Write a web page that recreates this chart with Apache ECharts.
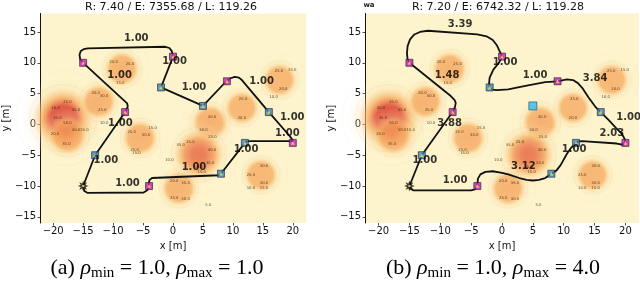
<!DOCTYPE html>
<html><head><meta charset="utf-8">
<script src="https://cdn.jsdelivr.net/npm/echarts@6/dist/echarts.min.js"></script>
<style>html,body{margin:0;padding:0;background:#fff}#c{width:640px;height:284px}</style>
</head><body><div id="c"></div>
<script>
// ---------------- data ----------------
const xTicks = [-20, -15, -10, -5, 0, 5, 10, 15, 20];
const yTicks = [-15, -10, -5, 0, 5, 10, 15];
const titles = ['R: 7.40 / E: 7355.68 / L: 119.26', 'R: 7.20 / E: 6742.32 / L: 119.28'];
const cornerNote = 'wa';
const captions = [
  ['(a) ', 'ρ', 'min', ' = 1.0, ', 'ρ', 'max', ' = 1.0'],
  ['(b) ', 'ρ', 'min', ' = 1.0, ', 'ρ', 'max', ' = 4.0']
];
// field sources: [x, y, peak]
const fieldSources = [
  [-18.3, 1.0, 55], [-17.6, -1.8, 35], [-12.4, 3.7, 32], [-8.5, 9.0, 32],
  [-5.5, -2.2, 32], [6.2, 0.3, 33], [4.3, -4.9, 45], [11.5, 2.7, 31],
  [17.8, 7.2, 31], [14.7, -8.2, 31], [1.0, -10.4, 32]
];
// contour labels: [x, y, text]
const contourLabels = [
  [-17.6, 3.6, '25.0'], [-19.6, 2.6, '40.0'], [-16.2, 2.4, '35.0'], [-19.3, 1.0, '45.0'],
  [-17.6, 0.3, '50.0'], [-16.2, -0.9, '30.0'], [-14.8, -0.9, '15.0'], [-19.7, -1.5, '20.0'],
  [-17.8, -3.2, '35.0'], [-12.9, 5.1, '20.0'], [-11.5, 4.6, '30.0'], [-11.8, 2.4, '25.0'],
  [-11.5, 0.2, '10.0'], [-9.9, 10.1, '20.0'], [-7.2, 9.85, '25.0'], [-8.8, 6.8, '15.0'],
  [-6.9, -1.2, '25.0'], [-4.5, -1.7, '30.0'], [-3.4, -0.6, '15.0'], [-6.4, -4.1, '25.0'],
  [-6.1, -4.7, '15.0'], [-0.6, -5.75, '10.0'], [6.5, 1.2, '30.0'], [5.1, -0.9, '30.0'],
  [6.6, -2.0, '25.0'], [1.3, -3.3, '35.0'], [2.9, -2.8, '25.0'], [6.5, -4.1, '40.0'],
  [6.2, -6.3, '35.0'], [4.8, -7.65, '15.0'], [4.3, -6.9, '45.0'], [11.7, 4.1, '25.0'],
  [11.5, 1.0, '20.0'], [17.7, 8.6, '25.0'], [19.9, 8.8, '15.0'], [18.4, 5.7, '20.0'],
  [16.8, 4.5, '10.0'], [15.2, -6.8, '30.0'], [13.0, -8.2, '25.0'], [15.2, -9.5, '30.0'],
  [15.2, -10.35, '15.0'], [13.0, -10.35, '10.0'], [0.2, -9.2, '20.0'], [2.1, -9.5, '35.0'],
  [0.2, -12.0, '25.0'], [2.1, -12.1, '30.0'], [5.9, -13.1, '5.0']
];
const startPoint = [[-15, -10]];
const sensorsA = [[-13, -5], [-2, 6], [5, 3], [16, 2], [12, -3], [8, -8]];
const targetsA = [[-8, 2], [-15, 10], [0, 11], [9, 7], [20, -3], [-4, -10]];
const sensorsB = [[-13, -5], [-2, 6], [16, 2], [12, -3], [8, -8]];
const targetsB = [[-8, 2], [-15, 10], [0, 11], [9, 7], [20, -3], [-4, -10]];
const unvisitedB = [[5, 3]];
const pathA = [
  [-15, -10], [-13, -5], [-8, 2], [-7.55, 2.9], [-7.65, 3.4], [-15, 10], [-15.5, 10.6],
  [-15.6, 11.3], [-15.4, 11.9], [-14.9, 12.2], [-14.2, 12.35], [-1.3, 12.6], [-0.6, 12.4],
  [-0.2, 11.9], [0, 11], [-2, 6], [5, 3], [8.5, 6.6], [9, 7], [9.5, 7.45], [10.3, 7.7],
  [11.0, 7.6], [11.5, 7.2], [16, 2], [19.4, -1.8], [19.8, -2.3], [20, -2.7], [20, -3],
  [13, -2.7], [12.4, -2.75], [12, -3], [8, -8], [7.6, -8.25], [-3.5, -8.7], [-3.9, -9.0],
  [-4.05, -9.5], [-4, -10], [-4.3, -10.7], [-4.9, -11.05], [-14.3, -11.1], [-14.8, -10.8], [-15, -10]
];
const pathB = [
  [-15, -10], [-13, -5], [-8, 2], [-7.6, 2.9], [-7.5, 3.5], [-7.7, 4.0], [-8.3, 4.6], [-15, 10],
  [-15.3, 10.6], [-15.4, 11.5], [-15.3, 12.7], [-14.9, 13.8], [-14.2, 14.6], [-13.3, 15.0],
  [-12, 15.2], [-4, 14.6], [-2.5, 14.3], [-1.5, 13.7], [-0.8, 12.8], [-0.3, 11.7], [0, 11],
  [-0.5, 10.0], [-1.4, 8.9], [-2.0, 7.6], [-2.1, 6.6], [-2, 6], [-1.6, 5.65], [-0.8, 5.55],
  [1, 5.7], [4, 6.3], [7, 6.85], [9, 7], [10.5, 7.3], [11.5, 7.2], [12.3, 6.7], [13.1, 5.8],
  [14.0, 4.4], [15.1, 2.9], [16, 2], [17.3, 0.7], [18.5, -0.6], [19.4, -1.5], [19.9, -2.4],
  [20, -3], [19.6, -3.3], [18.6, -3.1], [13, -2.7], [12.4, -2.75], [12, -3], [11.2, -3.8],
  [10.5, -4.8], [9.5, -6.6], [8.8, -7.5], [8, -8], [7, -8.7], [6, -9.0], [5, -9.1], [4, -9.0],
  [2.8, -8.7], [1, -8.1], [0, -7.85], [-1.5, -7.6], [-2.7, -7.7], [-3.5, -8.1], [-3.9, -8.8],
  [-4, -10], [-4.4, -10.55], [-5, -10.7], [-14.4, -10.7], [-14.9, -10.4], [-15, -10]
];
// radius labels: [x, y, text]
const radiusLabelsA = [
  [-6.14, 13.9, '1.00'], [0.25, 10.2, '1.00'], [-8.9, 7.9, '1.00'], [3.5, 5.95, '1.00'],
  [14.8, 6.9, '1.00'], [19.9, 1.07, '1.00'], [-8.8, 0.1, '1.00'], [19.1, -1.5, '1.00'],
  [12.2, -4.0, '1.00'], [-11.2, -5.9, '1.00'], [3.5, -7.05, '1.00'], [-7.6, -9.5, '1.00']
];
const radiusLabelsB = [
  [-6.8, 16.3, '3.39'], [0.5, 10.1, '1.00'], [-8.9, 7.95, '1.48'], [5.35, 7.9, '1.00'],
  [15.1, 7.4, '3.84'], [20.5, 1.2, '1.00'], [-8.5, 0.1, '3.88'], [17.8, -1.4, '2.03'],
  [11.7, -4.0, '1.00'], [-12.5, -5.9, '1.00'], [3.45, -6.85, '3.12'], [-7.6, -9.1, '1.00']
];

// ---------------- styling / build ----------------
const FF = 'DejaVu Sans';
const PX = 6.13; // approx pixels per metre
const grids = [
  { left: 35, top: 13.5, width: 271, height: 209.5 },
  { left: 365, top: 13.5, width: 274, height: 209.5 }
];
function fmt(v) { return String(v).replace('-', '\u2212'); }
function hex(c) { return [parseInt(c.slice(1,3),16), parseInt(c.slice(3,5),16), parseInt(c.slice(5,7),16)]; }
function mix(a, b, t) { const A = hex(a), B = hex(b); return 'rgb(' + A.map((v,i)=>Math.round(v+(B[i]-v)*t)).join(',') + ')'; }
const ORANGE = '#f7ad63', RED = '#d92d1f';
function blobItem(s) {
  const t = Math.max(0, Math.min(1, (s[2] - 30) / 25));
  const coreR = 2 + (s[2] - 30) / 15;
  const R = coreR * 1.9;
  const stops = [
    { offset: 0, color: mix(ORANGE, RED, t) },
    { offset: 0.05 + 0.25 * t, color: mix(ORANGE, RED, t * 0.9) },
    { offset: 0.4, color: mix(ORANGE, RED, t * 0.4) },
    { offset: 0.49, color: ORANGE },
    { offset: 0.56, color: 'rgba(248,188,115,0.8)' },
    { offset: 0.72, color: 'rgba(250,218,165,0.3)' },
    { offset: 1, color: 'rgba(252,240,200,0)' }
  ];
  return { value: [s[0], s[1]], symbolSize: 2 * R * PX,
    itemStyle: { color: { type: 'radial', x: 0.5, y: 0.5, r: 0.5, colorStops: stops } } };
}
function ringItem(s, k) {
  const coreR = 2 + (s[2] - 30) / 15;
  return { value: [s[0], s[1]], symbolSize: 2 * coreR * k * PX };
}
let starPath = 'path://';
for (let k = 0; k < 16; k++) {
  const a = k * Math.PI / 8 - Math.PI / 2, r = k % 2 ? 4.8 : 10;
  starPath += (k ? 'L' : 'M') + (r * Math.cos(a)).toFixed(2) + ',' + (r * Math.sin(a)).toFixed(2) + ' ';
}
starPath += 'Z';

const xAxes = [], yAxes = [], series = [];
const sets = [
  { path: pathA, sensors: sensorsA, targets: targetsA, unvisited: [], labels: radiusLabelsA },
  { path: pathB, sensors: sensorsB, targets: targetsB, unvisited: unvisitedB, labels: radiusLabelsB }
];
sets.forEach((st, gi) => {
  xAxes.push({ type: 'value', gridIndex: gi, min: -22.2, max: 22.2,
    axisLine: { show: false, onZero: false }, splitLine: { show: false },
    axisTick: { show: true, customValues: xTicks, length: 2.5, lineStyle: { color: '#222', width: 0.8 } },
    axisLabel: { customValues: xTicks, formatter: fmt, fontSize: 10, color: '#111', margin: 3.5, fontFamily: FF },
    name: 'x [m]', nameLocation: 'middle', nameGap: 13.5,
    nameTextStyle: { fontSize: 10, color: '#111', fontFamily: FF } });
  yAxes.push({ type: 'value', gridIndex: gi, min: -16, max: 18,
    axisLine: { show: true, onZero: false, lineStyle: { color: '#111', width: 1 } }, splitLine: { show: false },
    axisTick: { show: true, customValues: yTicks, length: 2.5, lineStyle: { color: '#222', width: 0.8 } },
    axisLabel: { customValues: yTicks, formatter: fmt, fontSize: 10, color: '#111', margin: 4, fontFamily: FF },
    name: 'y [m]', nameLocation: 'middle', nameGap: 23, nameRotate: 90,
    nameTextStyle: { fontSize: 10, color: '#111', fontFamily: FF } });
  const ax = { xAxisIndex: gi, yAxisIndex: gi, silent: true, animation: false };
  series.push(Object.assign({ type: 'scatter', z: 1, symbol: 'circle',
    data: fieldSources.map(blobItem) }, ax));
  series.push(Object.assign({ type: 'scatter', z: 1, symbol: 'circle',
    itemStyle: { color: 'rgba(0,0,0,0)', borderColor: 'rgba(225,150,80,0.2)', borderWidth: 0.6 },
    data: fieldSources.map(s => ringItem(s, 1.5)) }, ax));
  series.push(Object.assign({ type: 'scatter', z: 1, symbol: 'circle',
    itemStyle: { color: 'rgba(0,0,0,0)', borderColor: 'rgba(225,150,80,0.1)', borderWidth: 0.6 },
    data: fieldSources.map(s => ringItem(s, 2.1)) }, ax));
  series.push(Object.assign({ type: 'scatter', z: 2, symbolSize: 1,
    itemStyle: { color: 'rgba(0,0,0,0)' },
    label: { show: true, position: 'inside', formatter: '{b}', fontSize: 3.8, color: '#2e2210', fontFamily: FF },
    data: contourLabels.map(d => ({ value: [d[0], d[1]], name: d[2] })) }, ax));
  series.push(Object.assign({ type: 'line', z: 3, symbol: 'none', showSymbol: false,
    lineStyle: { color: '#111', width: 1.8 }, data: st.path }, ax));
  series.push(Object.assign({ type: 'scatter', z: 4, symbol: 'rect', symbolSize: 7,
    itemStyle: { color: '#3d86c6', borderColor: '#222', borderWidth: 0.8 }, data: st.sensors }, ax));
  series.push(Object.assign({ type: 'scatter', z: 4, symbol: 'rect', symbolSize: 7,
    itemStyle: { color: '#c21cc2', borderColor: '#222', borderWidth: 0.8 }, data: st.targets }, ax));
  series.push(Object.assign({ type: 'scatter', z: 4, symbol: 'rect', symbolSize: 8,
    itemStyle: { color: '#2fbdf0', borderColor: '#1d4f7a', borderWidth: 0.8 }, data: st.unvisited }, ax));
  series.push(Object.assign({ type: 'scatter', z: 5, symbol: 'triangle', symbolSize: 3.5,
    itemStyle: { color: '#ffe81a' }, data: st.sensors.concat(st.targets) }, ax));
  series.push(Object.assign({ type: 'scatter', z: 5, symbol: starPath, symbolSize: 11,
    itemStyle: { color: '#111' }, data: startPoint }, ax));
  series.push(Object.assign({ type: 'scatter', z: 6, symbol: 'circle', symbolSize: 2.5,
    itemStyle: { color: '#ffe81a' }, data: startPoint }, ax));
  series.push(Object.assign({ type: 'scatter', z: 7, symbolSize: 1,
    itemStyle: { color: 'rgba(0,0,0,0)' },
    label: { show: true, position: 'inside', formatter: '{b}', fontSize: 10, fontWeight: 'bold', color: '#000', fontFamily: FF },
    data: st.labels.map(d => ({ value: [d[0], d[1]], name: d[2] })) }, ax));
});

function captionText(c) {
  return '{r|' + c[0] + '}{i|' + c[1] + '}{s|' + c[2] + '}{r|' + c[3] + '}{i|' + c[4] + '}{s|' + c[5] + '}{r|' + c[6] + '}';
}
const capRich = {
  r: { fontSize: 22, fontFamily: 'Liberation Serif', fill: '#000', lineHeight: 26 },
  i: { fontSize: 22, fontFamily: 'Liberation Serif', fontStyle: 'italic', fill: '#000', lineHeight: 26 },
  s: { fontSize: 15, fontFamily: 'Liberation Serif', fill: '#000', lineHeight: 15, verticalAlign: 'bottom' }
};
const graphic = [
  { type: 'text', x: 171, y: 7, style: { text: titles[0], font: '11px "DejaVu Sans"', fill: '#111', textAlign: 'center', textVerticalAlign: 'middle' } },
  { type: 'text', x: 498, y: 7, style: { text: titles[1], font: '11px "DejaVu Sans"', fill: '#111', textAlign: 'center', textVerticalAlign: 'middle' } },
  { type: 'text', x: 369, y: 5, style: { text: cornerNote, font: 'bold 7px "DejaVu Sans"', fill: '#222', textAlign: 'center', textVerticalAlign: 'middle' } },
  { type: 'text', x: 157, y: 268, style: { text: captionText(captions[0]), rich: capRich, textAlign: 'center', textVerticalAlign: 'middle' } },
  { type: 'text', x: 493, y: 268, style: { text: captionText(captions[1]), rich: capRich, textAlign: 'center', textVerticalAlign: 'middle' } }
];

const chart = echarts.init(document.getElementById('c'), null, { renderer: 'canvas' });
chart.setOption({
  animation: false,
  backgroundColor: '#ffffff',
  grid: grids.map(g => Object.assign({ show: true, backgroundColor: '#fdf4cd', borderWidth: 0 }, g)),
  xAxis: xAxes, yAxis: yAxes, series: series, graphic: graphic
});
</script></body></html>
